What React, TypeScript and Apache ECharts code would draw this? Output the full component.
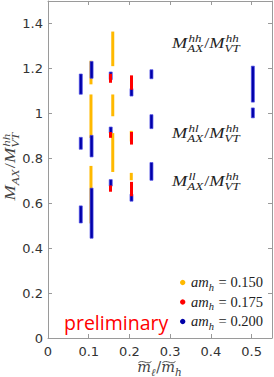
import React, { useEffect, useRef } from 'react';
import * as echarts from 'echarts';

// [x = m_l/m_h, low, high]
const amh150Bars: number[][] = [
  [0.1055, 1.129, 1.234],
  [0.1055, 0.89, 1.084],
  [0.1055, 0.51, 0.766],
  [0.159, 1.21, 1.364],
  [0.159, 0.987, 1.084],
  [0.159, 0.739, 0.912],
  [0.2045, 0.875, 0.922],
  [0.2045, 0.702, 0.735],
];
const amh175Bars: number[][] = [
  [0.1535, 1.136, 1.176],
  [0.1535, 0.891, 0.917],
  [0.1535, 0.651, 0.679],
  [0.205, 1.105, 1.169],
  [0.205, 0.861, 0.917],
  [0.205, 0.631, 0.695],
];
const amh200Bars: number[][] = [
  [0.0805, 1.085, 1.175],
  [0.0805, 0.84, 0.893],
  [0.0805, 0.512, 0.588],
  [0.107, 1.156, 1.231],
  [0.107, 0.806, 0.902],
  [0.107, 0.444, 0.667],
  [0.154, 1.15, 1.184],
  [0.154, 0.912, 0.939],
  [0.154, 0.676, 0.705],
  [0.205, 1.077, 1.11],
  [0.205, 0.609, 0.64],
  [0.254, 1.154, 1.194],
  [0.254, 0.932, 0.994],
  [0.254, 0.702, 0.781],
  [0.503, 1.05, 1.21],
  [0.503, 0.98, 1.024],
];
const amhValues = ['0.150', '0.175', '0.200'];
const ratioSups = ['hh', 'hl', 'll'];

const COLORS = ['#ffb900', '#ff0000', '#0000a8'];
const SERIF = 'Liberation Serif';
const SANS = 'DejaVu Sans';

const mcanvas = typeof document !== 'undefined' ? document.createElement('canvas') : null;
const mctx = mcanvas ? mcanvas.getContext('2d') : null;
function textWidth(t: string, size: number, italic: boolean, family: string) {
  if (!mctx) return t.length * size * 0.5;
  mctx.font = `${italic ? 'italic ' : ''}${size}px "${family}"`;
  return mctx.measureText(t).width;
}

type Tok = { t?: string; it?: boolean; sup?: string; sub?: string; tilde?: boolean; pad?: number };

function mathEls(toks: Tok[], size: number, ssize: number, fill: string, family = SERIF, supShift = 0.42) {
  const els: any[] = [];
  let x = 0;
  const mk = (text: string, px: number, base: number, sz: number, italic: boolean) => ({
    type: 'text',
    x: px,
    y: base - 0.33 * sz,
    silent: true,
    style: {
      text,
      fontSize: sz,
      fontFamily: family,
      fontStyle: italic ? 'italic' : 'normal',
      fill,
      align: 'left',
      verticalAlign: 'middle',
    },
  });
  for (const k of toks) {
    if (k.t !== undefined) {
      const it = k.it !== false;
      els.push(mk(k.t, x, 0, size, it));
      const w = textWidth(k.t, size, it, family);
      if (k.tilde) {
        const tw = w * 0.95;
        const x0 = x + (w - tw) / 2 + 0.8;
        const y0 = -size * 0.5 - 2.6;
        els.push({
          type: 'bezierCurve',
          silent: true,
          shape: {
            x1: x0,
            y1: y0 + 0.6,
            cpx1: x0 + tw * 0.35,
            cpy1: y0 - 3.2,
            cpx2: x0 + tw * 0.65,
            cpy2: y0 + 3.2,
            x2: x0 + tw,
            y2: y0 - 0.6,
          },
          style: { stroke: fill, lineWidth: 0.9, fill: 'none' },
        });
      }
      x += w + (k.pad || 0);
    } else {
      let w = 0;
      if (k.sup) {
        els.push(mk(k.sup, x + 1, -size * supShift, ssize, true));
        w = Math.max(w, textWidth(k.sup, ssize, true, family) + 1);
      }
      if (k.sub) {
        els.push(mk(k.sub, x, size * 0.25, ssize, true));
        w = Math.max(w, textWidth(k.sub, ssize, true, family));
      }
      x += w + 1;
    }
  }
  return { els, width: x };
}

function barSeries(name: string, data: number[][], color: string, stroke?: string) {
  return {
    name,
    type: 'custom',
    data,
    encode: { x: 0, y: [1, 2] },
    renderItem: (_p: any, api: any) => {
      const x = api.value(0);
      const lo = api.value(1);
      const hi = api.value(2);
      const a = api.coord([x, hi]);
      const b = api.coord([x, lo]);
      return {
        type: 'rect',
        shape: { x: a[0] - 1.5, y: a[1], width: 3, height: b[1] - a[1] },
        style: stroke ? { fill: color, stroke, lineWidth: 0.7 } : { fill: color },
      };
    },
  };
}

export default function App() {
  const ref = useRef<HTMLDivElement>(null);
  useEffect(() => {
    document.body.style.margin = '0';
    const chart = echarts.init(ref.current!, null, { renderer: 'svg' });

    const axisColor = '#9a9a9a';
    const labelColor = '#333333';
    const baseX = {
      type: 'value',
      min: 0,
      max: 0.55,
      interval: 0.1,
      axisLine: { show: true, onZero: false, lineStyle: { color: axisColor, width: 1 } },
      axisTick: { show: true, inside: true, length: 4, lineStyle: { color: axisColor } },
      splitLine: { show: false },
    };
    const baseY = {
      type: 'value',
      min: 0,
      max: 1.5,
      interval: 0.2,
      axisLine: { show: true, onZero: false, lineStyle: { color: axisColor, width: 1 } },
      axisTick: { show: true, inside: true, length: 4, lineStyle: { color: axisColor } },
      splitLine: { show: false },
    };

    const graphics: any[] = [];
    const LBL = 15.5;
    const SCR = 11;
    const STRETCH = 1.18;

    // ratio labels
    const ratioPos = [
      { x: 172, y: 48 },
      { x: 172, y: 138 },
      { x: 172, y: 186 },
    ];
    ratioSups.forEach((sup, i) => {
      const { els } = mathEls(
        [{ t: 'M' }, { sup, sub: 'AX' }, { t: '/', it: false }, { t: 'M' }, { sup: 'hh', sub: 'VT' }],
        LBL,
        SCR,
        '#222222'
      );
      graphics.push({ type: 'group', x: ratioPos[i].x, y: ratioPos[i].y, scaleX: STRETCH, children: els });
    });

    // y-axis title (rotated)
    {
      const { els, width } = mathEls(
        [{ t: 'M' }, { sub: 'AX' }, { t: '/', it: false }, { t: 'M' }, { sup: 'hh', sub: 'VT' }],
        LBL,
        SCR,
        '#444444',
        SERIF,
        0.36
      );
      graphics.push({
        type: 'group',
        x: 15.5,
        y: 166 + (width * STRETCH) / 2,
        rotation: Math.PI / 2,
        scaleX: STRETCH,
        children: els,
      });
    }

    // x-axis title
    {
      const { els, width } = mathEls(
        [{ t: 'm', tilde: true }, { sub: 'ℓ' }, { t: '/', it: false }, { t: 'm', tilde: true }, { sub: 'h' }],
        14.5,
        10.5,
        '#444444',
        'DejaVu Serif'
      );
      graphics.push({ type: 'group', x: 160 - width / 2, y: 372, children: els });
    }

    // legend
    amhValues.forEach((v, i) => {
      const cy = 282.5 + i * 19.5;
      graphics.push({
        type: 'circle',
        shape: { cx: 182.7, cy, r: 2.7 },
        style: { fill: COLORS[i] },
        silent: true,
      });
      const { els } = mathEls(
        [{ t: 'am' }, { sub: 'h' }, { t: ' = ' + v, it: false }],
        14.5,
        10.5,
        '#222222'
      );
      graphics.push({ type: 'group', x: 191, y: cy + 4.5, children: els });
    });

    // preliminary
    graphics.push({
      type: 'text',
      x: 64,
      y: 322,
      silent: true,
      style: {
        text: 'preliminary',
        fontSize: 19.5,
        fontFamily: 'Open Sans',
        fill: '#ff0000',
        align: 'left',
        verticalAlign: 'middle',
      },
    });

    const option: any = {
      animation: false,
      backgroundColor: '#ffffff',
      grid: { left: 48, right: 2, top: 1, bottom: 39 },
      xAxis: [
        {
          ...baseX,
          position: 'bottom',
          axisLabel: {
            show: true,
            margin: 7,
            fontSize: 13,
            fontFamily: SANS,
            color: labelColor,
            showMaxLabel: false,
          },
        },
        { ...baseX, position: 'top', axisLabel: { show: false } },
      ],
      yAxis: [
        {
          ...baseY,
          position: 'left',
          axisLabel: {
            show: true,
            margin: 5,
            fontSize: 13,
            fontFamily: SANS,
            color: labelColor,
            showMaxLabel: false,
          },
        },
        { ...baseY, position: 'right', axisLabel: { show: false } },
      ],
      series: [
        barSeries('am_h = 0.150', amh150Bars, COLORS[0]),
        barSeries('am_h = 0.200', amh200Bars, COLORS[2], '#4a4ae6'),
        barSeries('am_h = 0.175', amh175Bars, COLORS[1]),
      ],
      graphic: graphics,
    };
    chart.setOption(option);
    return () => chart.dispose();
  }, []);
  return <div ref={ref} style={{ width: 274, height: 377 }} />;
}
